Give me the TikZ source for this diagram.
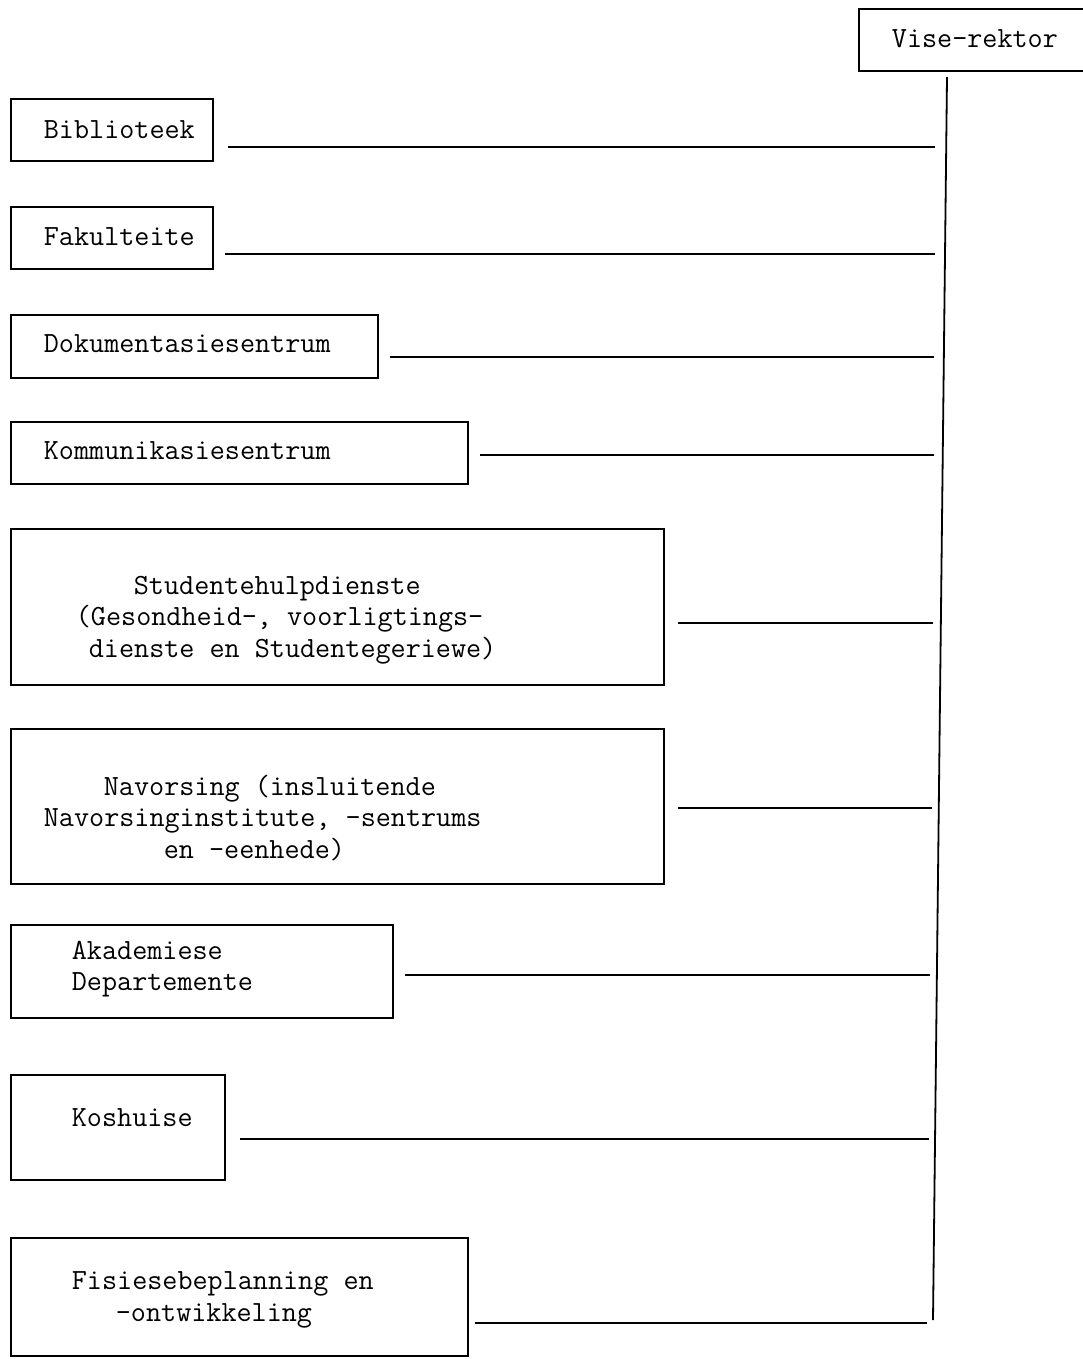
\documentclass[tikz,border=0pt]{standalone}
\begin{document}
\begin{tikzpicture}[line width=1.8pt, x=1pt, y=-1pt,
  font=\ttfamily\fontsize{29.3}{31.5}\selectfont,
  box/.style={draw, inner sep=0pt, anchor=north west},
  txt/.style={inner sep=0pt, anchor=west, align=left}]
\useasboundingbox (0,0) rectangle (1083,1359);
%
\node[box, minimum width=240, minimum height=62] (vise) at (858,8) {};
\node[txt] (visetxt) at (891,39) {Vise-rektor};
%
\node[box, minimum width=202, minimum height=62] (bib) at (10,98) {};
\node[txt] (bibtxt) at (43,130) {Biblioteek};
%
\node[box, minimum width=367, minimum height=63] (dok) at (10,314) {};
\node[txt] (doktxt) at (43,344) {Dokumentasiesentrum};
%
\node[box, minimum width=202, minimum height=62] (fak) at (10,206) {};
\node[txt] (faktxt) at (43,237) {Fakulteite};
%
\node[box, minimum width=457, minimum height=62] (kom) at (10,421) {};
\node[txt] (komtxt) at (43,451) {Kommunikasiesentrum};
%
\node[box, minimum width=653, minimum height=156] (stud) at (10,528) {};
\node[txt] (studtxt) at (75,620) {\hspace*{58pt}Studentehulpdienste\\
(Gesondheid-, voorligtings-\\
\hspace*{13pt}dienste en Studentegeriewe)};
%
\node[box, minimum width=653, minimum height=155] (nav) at (10,728) {};
\node[txt] (navtxt) at (43,818) {\hspace*{60pt}Navorsing (insluitende\\
Navorsinginstitute, -sentrums\\
\hspace*{120pt}en -eenhede)};
%
\node[box, minimum width=382, minimum height=93] (akad) at (10,924) {};
\node[txt] (akadtxt) at (71,969) {Akademiese\\Departemente};
%
\node[box, minimum width=214, minimum height=105] (kos) at (10,1074) {};
\node[txt] (kostxt) at (71,1118) {Koshuise};
%
\node[box, minimum width=457, minimum height=118] (fis) at (10,1237) {};
\node[txt] (fistxt) at (71,1300) {Fisiesebeplanning en\\
\hspace*{44pt}-ontwikkeling};
%
\coordinate (trunktop) at (947,77);
\coordinate (trunkbot) at (933,1320);
\draw (trunktop) -- (trunkbot);
%
\coordinate (bibL) at (228,147);  \coordinate (bibR) at (935,147);
\coordinate (fakL) at (225,254);  \coordinate (fakR) at (935,254);
\coordinate (dokL) at (390,357);  \coordinate (dokR) at (934,357);
\coordinate (komL) at (480,455);  \coordinate (komR) at (934,455);
\coordinate (studL) at (678,623); \coordinate (studR) at (933,623);
\coordinate (navL) at (678,808);  \coordinate (navR) at (932,808);
\coordinate (akadL) at (405,975); \coordinate (akadR) at (930,975);
\coordinate (kosL) at (240,1139); \coordinate (kosR) at (929,1139);
\coordinate (fisL) at (475,1323); \coordinate (fisR) at (927,1323);
%
\draw \foreach \u in {bib,fak,dok,kom,stud,nav,akad,kos,fis} {(\u L) -- (\u R)};
%
\end{tikzpicture}
\end{document}
